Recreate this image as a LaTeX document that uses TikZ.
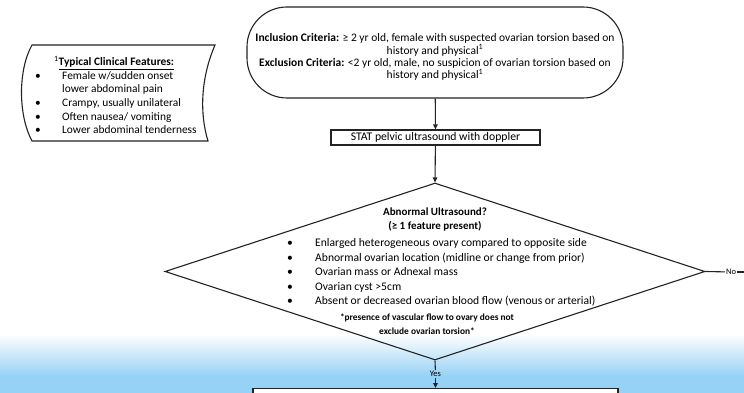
\documentclass[tikz,border=0pt]{standalone}
\usepackage{fontspec}
\setmainfont{Carlito}
\usetikzlibrary{shapes.geometric,arrows.meta}
\definecolor{skyb}{RGB}{150,210,245}
\definecolor{linec}{RGB}{35,35,35}
\begin{document}
\begin{tikzpicture}[x=1pt,y=-1pt,
  line/.style={draw=linec, line width=1.1pt},
  arr/.style={draw=linec, line width=1.1pt, -{Triangle[length=5pt,width=4.5pt]}},
  lst/.style={font=\fontsize{11.6}{14.6}\selectfont, text=black, inner sep=0},
]
\useasboundingbox (0,0) rectangle (744,393);
\clip (0,0) rectangle (744,393);
\fill[white] (0,0) rectangle (744,393);
\shade[top color=white,bottom color=skyb] (0,334) rectangle (744,376);
\fill[skyb] (0,376) rectangle (744,393);

% top box
\node[line, rounded corners=40pt, minimum width=376pt, minimum height=91pt, inner sep=0] (incl) at (435,52.5) {};
\node[align=center, inner sep=0, font=\fontsize{11.5}{12.2}\selectfont] (incltxt) at (435,57)
 {\textbf{Inclusion Criteria:} ≥ 2 yr old, female with suspected ovarian torsion based on\\
  history and physical\textsuperscript{1}\\
  \textbf{Exclusion Criteria:} <2 yr old, male, no suspicion of ovarian torsion based on\\
  history and physical\textsuperscript{1}};

% features box
\draw[line] (32,45) -- (215,45)
  .. controls (200,80) and (200,115) .. (208,141)
  -- (32,141) .. controls (18,115) and (18,70) .. cycle;
\node[anchor=north west, inner sep=0, font=\fontsize{11.4}{13.6}\selectfont] (feat) at (35,56)
 {\begin{tabular}{@{}p{27pt}@{}l@{}}
  \multicolumn{2}{@{}l@{}}{\hspace{19pt}\textsuperscript{1}\textbf{\underline{Typical Clinical Features:}}}\\
  • & Female w/sudden onset\\
    & lower abdominal pain\\
  • & Crampy, usually unilateral\\
  • & Often nausea/ vomiting\\
  • & Lower abdominal tenderness
 \end{tabular}};

% STAT box
\node[line, minimum width=209pt, minimum height=15pt, inner sep=0, font=\fontsize{11.7}{14}\selectfont] (stat) at (435.5,137.5) {STAT pelvic ultrasound with doppler};

% diamond
\node[diamond, line, minimum width=540pt, minimum height=177pt, inner sep=0] (dia) at (435,271.5) {};
\node[align=center, inner sep=0, font=\bfseries\fontsize{11}{14}\selectfont] (q) at (435,220) {Abnormal Ultrasound?\\(≥ 1 feature present)};
\node[anchor=north west, lst] (items) at (287,236)
 {\begin{tabular}{@{}p{28pt}@{}l@{}}
  • & Enlarged heterogeneous ovary compared to opposite side\\
  • & Abnormal ovarian location (midline or change from prior)\\
  • & Ovarian mass or Adnexal mass\\
  • & Ovarian cyst >5cm\\
  • & Absent or decreased ovarian blood flow (venous or arterial)
 \end{tabular}};
\node[align=center, inner sep=0, font=\bfseries\fontsize{9.4}{14}\selectfont] (note) at (427,324.5) {*presence of vascular flow to ovary does not\\exclude ovarian torsion*};

% bottom box
\node[line, fill=white, anchor=north, minimum width=365pt, minimum height=40pt] (next) at (435.5,388) {};

% connectors
\draw[arr] (incl) -- (stat);
\draw[arr] (stat) -- (dia.north);
\node[inner sep=1pt, font=\fontsize{8.5}{10}\selectfont, text=black] (yes) at (435.5,374) {Yes};
\draw[line] (dia.south) -- (yes);
\draw[arr] (yes) -- (next);
\node[inner sep=1pt, font=\fontsize{8.5}{10}\selectfont, text=black] (no) at (731,272) {No};
\coordinate (noend) at (745,272);
\draw[line] (dia.east) -- (no);
\draw[line] (no) -- (noend);
\end{tikzpicture}
\end{document}
